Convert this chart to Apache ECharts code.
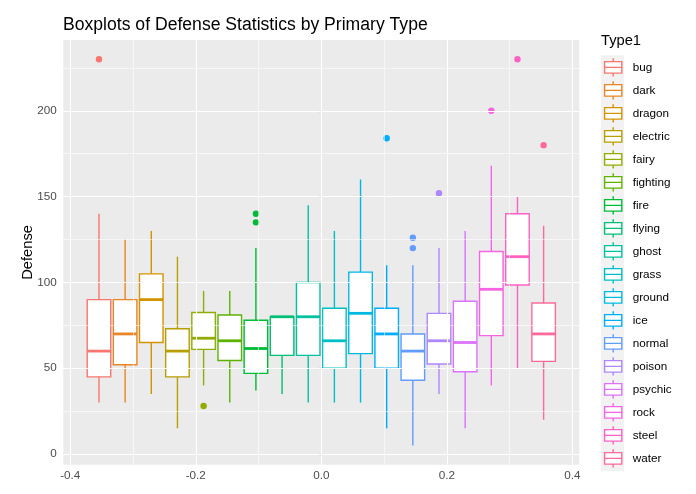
<!DOCTYPE html>
<html>
<head>
<meta charset="utf-8">
<script src="https://cdn.jsdelivr.net/npm/echarts@6/dist/echarts.min.js"></script>
<style>
html,body{margin:0;padding:0;background:#fff;}
#chart{width:696px;height:494px;}
</style>
</head>
<body>
<div id="chart"></div>
<script>
// ---- data ----
const types = ['bug','dark','dragon','electric','fairy','fighting','fire','flying','ghost','grass','ground','ice','normal','poison','psychic','rock','steel','water'];
const lowerWhisker = [30, 30, 35, 15, 40, 30, 37, 35, 30, 30, 30, 15, 5, 35, 15, 40, 50, 20];
const q1Values     = [45, 52, 65, 45, 61, 54.5, 47, 57.5, 57.5, 50, 58.5, 50, 43, 52.5, 48, 69, 98.5, 54];
const medianValues = [60, 70, 90, 60, 67.5, 66, 61.5, 80, 80, 66, 82, 70, 60, 66, 65, 96, 115, 70];
const q3Values     = [90, 90, 105, 73, 82.5, 81, 78, 80, 100, 85, 106, 85, 70, 82, 89, 118, 140, 88];
const upperWhisker = [140, 125, 130, 115, 95, 95, 120, 80, 145, 130, 160, 110, 110, 120, 130, 168, 150, 133];
const outliers = [[230], [], [], [], [28], [], [140, 135], [], [], [], [], [184], [126, 120], [152], [], [200], [230], [180]];
const xTicks = [-0.4, -0.2, 0, 0.2, 0.4];
const xTickLabels = ['-0.4', '-0.2', '0.0', '0.2', '0.4'];
const xMinor = [-0.3, -0.1, 0.1, 0.3];
const yTicks = [0, 50, 100, 150, 200];
const yTickLabels = ['0', '50', '100', '150', '200'];
const yMinor = [25, 75, 125, 175, 225];

// ---- ggplot hue palette ----
function hcl(h, c, l) {
  const hr = h * Math.PI / 180;
  const U = c * Math.cos(hr), V = c * Math.sin(hr);
  const Xn = 95.047, Yn = 100, Zn = 108.883;
  const d = Xn + 15 * Yn + 3 * Zn;
  const un = 4 * Xn / d, vn = 9 * Yn / d;
  const Y = Yn * (l > 8 ? Math.pow((l + 16) / 116, 3) : l / 903.3);
  const u = U / (13 * l) + un, v = V / (13 * l) + vn;
  const X = 9 * Y * u / (4 * v);
  const Z = Y * (12 - 3 * u - 20 * v) / (4 * v);
  const x = X / 100, y = Y / 100, z = Z / 100;
  let rgb = [
    3.240479 * x - 1.537150 * y - 0.498535 * z,
    -0.969256 * x + 1.875992 * y + 0.041556 * z,
    0.055648 * x - 0.204043 * y + 1.057311 * z
  ];
  return '#' + rgb.map(t => {
    t = t <= 0.0031308 ? 12.92 * t : 1.055 * Math.pow(t, 1 / 2.4) - 0.055;
    t = Math.max(0, Math.min(1, t));
    return Math.round(t * 255).toString(16).padStart(2, '0');
  }).join('');
}
const n = types.length;
const colors = types.map((_, i) => hcl(15 + 360 * i / n, 100, 65));

// ---- layout constants ----
const FONT = 'Liberation Sans';
const dodgeWidth = 0.75;
const slot = dodgeWidth / n;
const boxWidth = slot * 0.9;

function makeSeries(i) {
  const center = -dodgeWidth / 2 + slot * (i + 0.5);
  const col = colors[i];
  const outs = outliers[i];
  return {
    type: 'custom',
    name: types[i],
    z: 3,
    itemStyle: { color: col, borderColor: col },
    data: [[center, lowerWhisker[i], q1Values[i], medianValues[i], q3Values[i], upperWhisker[i]]],
    encode: { x: 0, y: [1, 2, 3, 4, 5] },
    renderItem: function (params, api) {
      const cx = api.value(0);
      const lo = api.value(1), q1 = api.value(2), md = api.value(3), q3 = api.value(4), hi = api.value(5);
      const h = boxWidth / 2;
      const pTopW = api.coord([cx, hi]);
      const pQ3 = api.coord([cx, q3]);
      const pQ1 = api.coord([cx, q1]);
      const pLoW = api.coord([cx, lo]);
      const pL3 = api.coord([cx - h, q3]);
      const pR1 = api.coord([cx + h, q1]);
      const pLm = api.coord([cx - h, md]);
      const pRm = api.coord([cx + h, md]);
      const lw = 1.4;
      const children = [
        { type: 'line', shape: { x1: pTopW[0], y1: pTopW[1], x2: pQ3[0], y2: pQ3[1] }, style: { stroke: col, lineWidth: lw } },
        { type: 'line', shape: { x1: pQ1[0], y1: pQ1[1], x2: pLoW[0], y2: pLoW[1] }, style: { stroke: col, lineWidth: lw } },
        { type: 'rect', shape: { x: pL3[0], y: pL3[1], width: pR1[0] - pL3[0], height: pR1[1] - pL3[1] }, style: { fill: '#ffffff', stroke: col, lineWidth: lw } },
        { type: 'line', shape: { x1: pLm[0], y1: pLm[1], x2: pRm[0], y2: pRm[1] }, style: { stroke: col, lineWidth: 2.8 } }
      ];
      outs.forEach(o => {
        const p = api.coord([cx, o]);
        children.push({ type: 'circle', shape: { cx: p[0], cy: p[1], r: 3.2 }, style: { fill: col } });
      });
      return { type: 'group', children: children };
    }
  };
}

const gridLineMajor = { color: '#ffffff', width: 1.1, type: 'solid' };
const gridLineMinor = { color: '#ffffff', width: 0.55, type: 'solid' };
const gridSeries = {
  type: 'scatter',
  name: '__grid',
  data: [],
  z: 1,
  silent: true,
  markLine: {
    silent: true,
    symbol: ['none', 'none'],
    label: { show: false },
    animation: false,
    data: [
      ...yMinor.map(v => ({ yAxis: v, lineStyle: gridLineMinor })),
      ...xMinor.map(v => ({ xAxis: v, lineStyle: gridLineMinor })),
      ...yTicks.map(v => ({ yAxis: v, lineStyle: gridLineMajor })),
      ...xTicks.map(v => ({ xAxis: v, lineStyle: gridLineMajor }))
    ]
  }
};

const keyIcon = 'path://M0,0M23,23M11.5,2.3L11.5,5.75M2.875,5.75L20.125,5.75L20.125,17.25L2.875,17.25ZM2.875,11.5L20.125,11.5M11.5,17.25L11.5,20.7';

const option = {
  animation: false,
  backgroundColor: '#ffffff',
  title: [
    { text: 'Boxplots of Defense Statistics by Primary Type', left: 63, top: 16, padding: 0,
      textStyle: { fontFamily: FONT, fontSize: 17.6, fontWeight: 'normal', color: '#000000' } },
    { text: 'Type1', left: 601, top: 33, padding: 0,
      textStyle: { fontFamily: FONT, fontSize: 14.7, fontWeight: 'normal', color: '#000000' } }
  ],
  graphic: [
    { type: 'rect', left: 601, top: 55.2, z: 0, silent: true,
      shape: { width: 23, height: 415.8 }, style: { fill: '#F2F2F2' } }
  ],
  legend: {
    orient: 'vertical',
    left: 601,
    top: 55.2,
    height: 436,
    padding: 0,
    itemWidth: 23,
    itemHeight: 23,
    itemGap: -1.4,
    icon: keyIcon,
    textStyle: { fontFamily: FONT, fontSize: 11.7, color: '#000000', padding: [0, 0, 0, 3] },
    data: types.map((t, i) => ({ name: t, icon: keyIcon,
      itemStyle: { color: '#ffffff', borderColor: colors[i], borderWidth: 1.4 } }))
  },
  grid: {
    left: 63.3, right: 116.7, top: 40, bottom: 29.2,
    show: true, backgroundColor: '#EBEBEB', borderWidth: 0
  },
  xAxis: {
    type: 'value',
    min: -0.411, max: 0.411,
    axisLine: { show: false },
    axisTick: { show: true, length: 3.67, lineStyle: { color: '#333333', width: 1.07 }, customValues: xTicks },
    axisLabel: { show: true, customValues: xTicks, margin: 5, fontFamily: FONT, fontSize: 11.7, color: '#4D4D4D',
      formatter: v => { const k = xTicks.findIndex(t => Math.abs(t - v) < 1e-9); return k >= 0 ? xTickLabels[k] : ''; } },
    splitLine: { show: false }
  },
  yAxis: {
    type: 'value',
    min: -6.25, max: 241.25,
    name: 'Defense',
    nameLocation: 'middle',
    nameGap: 28,
    nameMoveOverlap: false,
    nameTextStyle: { fontFamily: FONT, fontSize: 14.7, color: '#000000' },
    axisLine: { show: false },
    axisTick: { show: true, length: 3.67, lineStyle: { color: '#333333', width: 1.07 }, customValues: yTicks },
    axisLabel: { show: true, customValues: yTicks, margin: 6.6, fontFamily: FONT, fontSize: 11.7, color: '#4D4D4D',
      formatter: v => { const k = yTicks.findIndex(t => Math.abs(t - v) < 1e-9); return k >= 0 ? yTickLabels[k] : ''; } },
    splitLine: { show: false }
  },
  series: [gridSeries, ...types.map((_, i) => makeSeries(i))]
};

const chart = echarts.init(document.getElementById('chart'), null, { renderer: 'canvas' });
chart.setOption(option);
</script>
</body>
</html>
